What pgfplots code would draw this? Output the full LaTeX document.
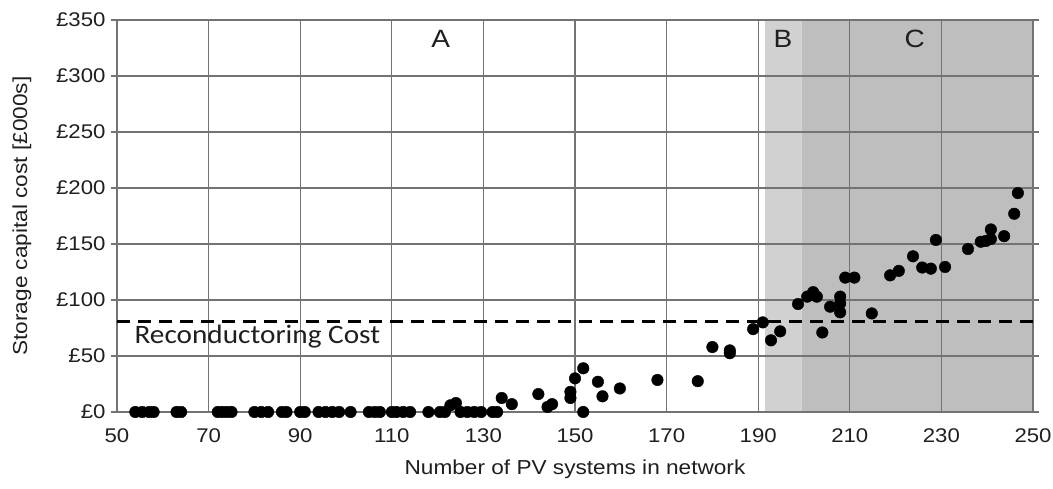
\documentclass[border=0pt]{standalone}
\usepackage{fontspec}
\setmainfont{Liberation Sans}[FakeStretch=1.12]
\newfontfamily\calibri{Carlito}[FakeStretch=1.1]
\usepackage{pgfplots}
\pgfplotsset{compat=1.18}
\definecolor{gridgray}{gray}{0.45}
\definecolor{zoneB}{gray}{0.82}
\definecolor{zoneC}{gray}{0.745}
\definecolor{txt}{gray}{0.12}
\begin{document}
\begin{tikzpicture}
\begin{axis}[
  set layers,
  scale only axis,
  width=916pt, height=392pt,
  xmin=50, xmax=250, ymin=0, ymax=350,
  xtick={50,70,...,250},
  ytick={0,50,...,350},
  yticklabels={£0,£50,£100,£150,£200,£250,£300,£350},
  /pgf/number format/assume math mode=true,
  grid=major,
  major grid style={gridgray, line width=1.1pt},
  axis line style={gridgray, line width=1.1pt},
  tick style={gridgray, line width=1.1pt},
  tick align=outside,
  major tick length=6pt,
  xtick style={draw=none},
  ticklabel style={font=\fontsize{19.8}{22}\selectfont, text=txt},
  yticklabel style={xshift=-2pt},
  xticklabel style={yshift=-7pt},
  xlabel={Number of PV systems in network},
  ylabel={Storage capital cost [£000s]},
  label style={font=\fontsize{20.2}{23}\selectfont, text=txt},
  xlabel style={at={(axis description cs:0.5,0)}, anchor=center, yshift=-57pt},
  ylabel style={at={(axis description cs:0,0.5)}, anchor=center, yshift=95pt},
  clip=false,
]
% operating zones B and C
\addplot[fill=zoneB, draw=none, on layer=axis background] coordinates {(191.5,0) (199.5,0) (199.5,350) (191.5,350) (191.5,0)};
\addplot[fill=zoneC, draw=none, on layer=axis background] coordinates {(199.5,0) (250,0) (250,350) (199.5,350) (199.5,0)};
% reconductoring cost threshold
\addplot[black, line width=2.8pt, dash pattern=on 13pt off 8pt] coordinates {(50,81) (250,81)};
% storage cost for each network scenario
\addplot[only marks, mark=*, mark size=5.8pt, black] coordinates {
(54,0) (55.5,0) (57,0) (58,0) (63,0) (64,0) (72,0) (73,0) (74,0) (75,0)
(80,0) (81.5,0) (83,0) (86,0) (87,0) (90,0) (91,0) (94,0) (95.5,0) (97,0)
(98.5,0) (101,0) (105,0) (106.3,0) (107.4,0) (110,0) (111,0) (112.5,0) (114,0) (118,0)
(120.5,0) (121.6,0) (125,0) (126.5,0) (128,0) (129.5,0) (132,0) (133,0)
(122.8,6) (124,8)
(134,12.5) (136.2,7) (142,16) (144,4.5) (145,7) (149,18) (149,12.5) (150,30)
(151.8,39) (151.8,0) (155,27) (156,14) (159.8,21) (168,28.6) (176.8,27.5)
(180,58) (183.8,55) (183.8,52.5) (188.9,74) (191,80) (192.8,64) (194.8,72)
(198.7,96.4) (200.7,103) (202,107) (202.8,103) (204,71) (205.7,94)
(207.9,103) (207.9,97) (207.9,89) (209,120) (211,120) (214.8,88)
(218.8,122) (220.7,126) (223.8,139) (225.8,129) (227.7,128) (228.8,153.6)
(230.8,129.5) (235.8,145.5) (238.6,152) (239.7,152.7) (240.8,154.5)
(240.8,163) (243.7,157) (245.9,177) (246.7,195.5)
};
\node[font=\fontsize{25}{28}\selectfont, text=txt] at (axis cs:120.7,333) {A};
\node[font=\fontsize{25}{28}\selectfont, text=txt] at (axis cs:195.4,333) {B};
\node[font=\fontsize{25}{28}\selectfont, text=txt] at (axis cs:224.2,333) {C};
\node[font=\calibri\fontsize{26.6}{30}\selectfont, text=txt, anchor=west, inner sep=0pt] at (axis cs:53.8,67) {Reconductoring Cost};
\end{axis}
\pgfresetboundingbox
\useasboundingbox (-117pt,-77pt) rectangle (936pt,412pt);
\end{tikzpicture}
\end{document}
